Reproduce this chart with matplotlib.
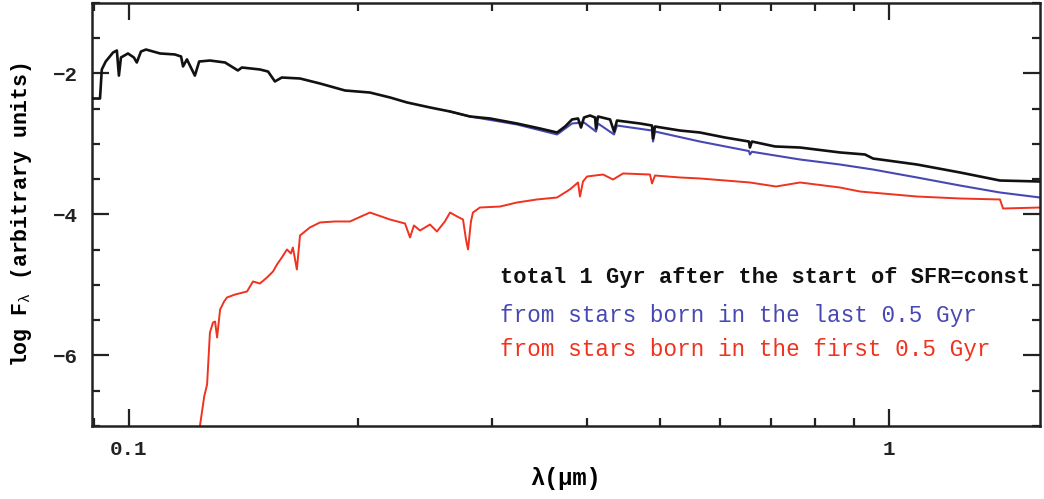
import matplotlib
matplotlib.use("Agg")
import matplotlib.pyplot as plt
from matplotlib.ticker import FixedLocator, NullFormatter, MultipleLocator

# ---- data ----
black_lam = [0.0894, 0.0916, 0.0921, 0.0932, 0.0953, 0.0964, 0.0970, 0.0976, 0.0997, 0.1015,
             0.1024, 0.1037, 0.1053, 0.1099, 0.1149, 0.1171, 0.1178, 0.1192, 0.1221, 0.1237,
             0.1278, 0.1338, 0.1391, 0.1408, 0.1487, 0.1524, 0.1556, 0.1589, 0.1679, 0.1784,
             0.1924, 0.2075, 0.2205, 0.2322, 0.2489, 0.2645, 0.2810, 0.2985, 0.3239, 0.3473,
             0.3658, 0.3748, 0.3828, 0.3898, 0.3933, 0.3969, 0.4042, 0.4104, 0.4116, 0.4141,
             0.4295, 0.4347, 0.4386, 0.4702, 0.4877, 0.4892, 0.4921, 0.5309, 0.5639, 0.6084,
             0.6541, 0.6561, 0.6601, 0.7079, 0.7637, 0.8619, 0.9299, 0.9526, 1.0884, 1.2399,
             1.3995, 1.580]
black_flux = [-2.355, -2.355, -1.943, -1.830, -1.702, -1.674, -2.03, -1.773, -1.716, -1.773,
              -1.844, -1.688, -1.66, -1.716, -1.73, -1.759, -1.90, -1.80, -2.03, -1.83,
              -1.816, -1.844, -1.957, -1.915, -1.943, -1.972, -2.113, -2.057, -2.071, -2.142,
              -2.241, -2.27, -2.34, -2.411, -2.482, -2.539, -2.61, -2.638, -2.709, -2.78,
              -2.837, -2.752, -2.652, -2.638, -2.766, -2.624, -2.596, -2.624, -2.78, -2.61,
              -2.652, -2.823, -2.667, -2.709, -2.738, -2.922, -2.752, -2.809, -2.837, -2.908,
              -2.965, -3.05, -2.965, -3.035, -3.05, -3.12, -3.149, -3.206, -3.291, -3.404,
              -3.518, -3.532]

blue_lam = [0.2645, 0.2810, 0.3239, 0.3658, 0.3828, 0.3969, 0.4116, 0.4141, 0.4347, 0.4386,
            0.4877, 0.4892, 0.4921, 0.5639, 0.6541, 0.6561, 0.6601, 0.7637, 0.8619, 0.9526,
            1.0884, 1.2399, 1.3995, 1.580]
blue_flux = [-2.539, -2.61, -2.723, -2.865, -2.709, -2.695, -2.823, -2.709, -2.865, -2.738,
             -2.809, -2.965, -2.823, -2.965, -3.10, -3.149, -3.11, -3.22, -3.291, -3.362,
             -3.475, -3.589, -3.688, -3.759]

red_lam = [0.1236, 0.1256, 0.1267, 0.1278, 0.1290, 0.1298, 0.1306, 0.1318, 0.1334, 0.1346,
           0.1379, 0.1430, 0.1456, 0.1487, 0.1519, 0.1547, 0.1566, 0.1589, 0.1614, 0.1633,
           0.1643, 0.1663, 0.1679, 0.1730, 0.1784, 0.1866, 0.1953, 0.2075, 0.2205, 0.2308,
           0.2343, 0.2371, 0.2415, 0.2489, 0.2542, 0.2604, 0.2645, 0.2702, 0.2751, 0.2776,
           0.2793, 0.2818, 0.2835, 0.2895, 0.3078, 0.3239, 0.3441, 0.3658, 0.3802, 0.3898,
           0.3921, 0.3957, 0.4005, 0.4205, 0.4334, 0.4467, 0.4847, 0.4877, 0.4921, 0.5309,
           0.5639, 0.6561, 0.7101, 0.7637, 0.8619, 0.9158, 1.0884, 1.2399, 1.3995, 1.4125,
           1.580]
red_flux = [-7.1, -6.582, -6.411, -5.674, -5.532, -5.518, -5.745, -5.348, -5.234, -5.177,
            -5.135, -5.092, -4.95, -4.979, -4.894, -4.809, -4.709, -4.61, -4.496, -4.553,
            -4.468, -4.78, -4.298, -4.184, -4.113, -4.099, -4.099, -3.972, -4.071, -4.128,
            -4.326, -4.156, -4.227, -4.142, -4.241, -4.099, -3.972, -4.028, -4.071, -4.355,
            -4.496, -4.099, -3.972, -3.901, -3.887, -3.83, -3.787, -3.759, -3.645, -3.546,
            -3.745, -3.532, -3.461, -3.433, -3.504, -3.418, -3.433, -3.56, -3.447, -3.475,
            -3.489, -3.546, -3.603, -3.546, -3.617, -3.674, -3.745, -3.773, -3.787, -3.915,
            -3.901]

legend_texts = ["total 1 Gyr after the start of SFR=const",
                "from stars born in the last 0.5 Gyr",
                "from stars born in the first 0.5 Gyr"]
x_major = [0.1, 1]
x_major_labels = ["0.1", "1"]
y_major = [-2, -4, -6]
y_major_labels = ["\u22122", "\u22124", "\u22126"]

BLACK = "#111111"
BLUE = "#4848b4"
RED = "#f0321e"

FONT = "Liberation Mono"
plt.rcParams["mathtext.fontset"] = "custom"
plt.rcParams["mathtext.rm"] = FONT
plt.rcParams["mathtext.it"] = FONT
plt.rcParams["mathtext.bf"] = FONT + ":bold"

fig = plt.figure(figsize=(10.44, 4.99), dpi=100)
ax = fig.add_axes([0.0881, 0.1463, 0.9081, 0.8477])

ax.plot(blue_lam, blue_flux, color=BLUE, lw=1.5, zorder=2)
ax.plot(red_lam, red_flux, color=RED, lw=1.4, zorder=2)
ax.plot(black_lam, black_flux, color=BLACK, lw=1.9, zorder=3)

ax.set_xscale("log")
ax.set_xlim(0.0894, 1.58)
ax.set_ylim(-7, -1)

ax.xaxis.set_major_locator(FixedLocator(x_major))
ax.set_xticklabels(x_major_labels)
ax.xaxis.set_minor_locator(FixedLocator([0.09, 0.2, 0.3, 0.4, 0.5, 0.6, 0.7, 0.8, 0.9]))
ax.xaxis.set_minor_formatter(NullFormatter())
ax.yaxis.set_major_locator(FixedLocator(y_major))
ax.set_yticklabels(y_major_labels)
ax.yaxis.set_minor_locator(MultipleLocator(0.5))

ax.tick_params(which="both", direction="in", top=True, right=True, width=1.6, colors="#222222")
ax.tick_params(which="major", length=12, pad=10)
ax.tick_params(which="minor", length=6)
for lab in ax.get_xticklabels() + ax.get_yticklabels():
    lab.set_fontfamily(FONT)
    lab.set_fontsize(15)
    lab.set_fontweight("bold")

for sp in ax.spines.values():
    sp.set_linewidth(1.8)
    sp.set_color("#222222")

ax.set_xlabel("\u03bb(\u03bcm)", fontsize=17, family=FONT, fontweight="bold", labelpad=6)
ax.set_ylabel(r"log F$_{\lambda}$ (arbitrary units)", fontsize=15.5, family=FONT,
              fontweight="bold", labelpad=14)

colors = [BLACK, BLUE, RED]
sizes = [15.8, 16.3, 16.3]
ys = [0.352, 0.262, 0.180]
for t, c, s, yy in zip(legend_texts, colors, sizes, ys):
    ax.text(0.430, yy, t, color=c, transform=ax.transAxes, family=FONT,
            fontsize=s, va="center", ha="left",
            fontweight="bold" if c == BLACK else "normal")

fig.savefig("out.png", dpi=100)
